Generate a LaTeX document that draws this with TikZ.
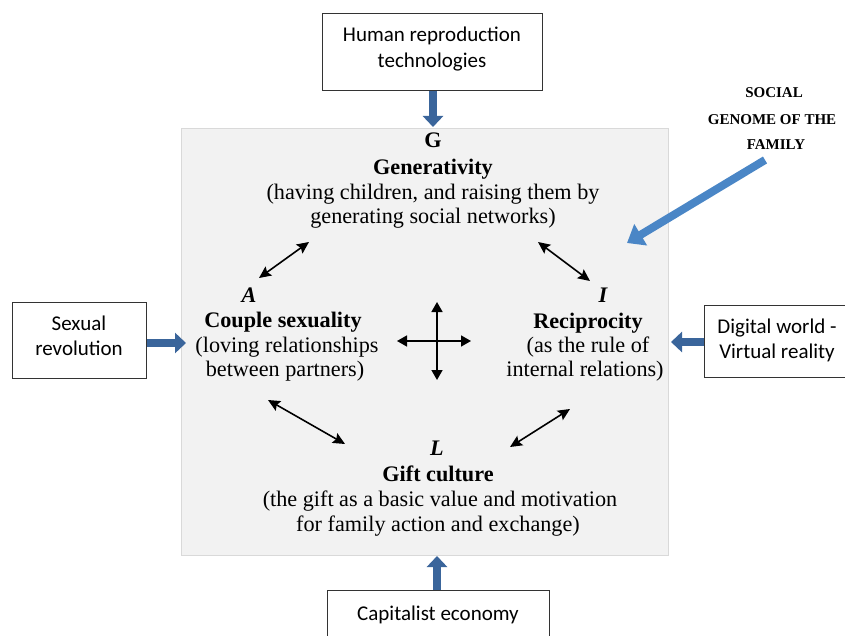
\documentclass[tikz,border=0pt]{standalone}
\usepackage{fontspec}
\setmainfont{Liberation Serif}
\newfontfamily\carlitofont{Carlito}
\usetikzlibrary{arrows.meta}
\definecolor{bluearr}{HTML}{3A659B}
\definecolor{lightblue}{HTML}{4A86C6}
\definecolor{panel}{HTML}{F2F2F2}
\begin{document}
\begin{tikzpicture}[x=1pt,y=-1pt,
  outbox/.style={draw=black!80,line width=0.8pt,fill=white,inner sep=0pt,anchor=north west},
  sans/.style={font=\carlitofont\fontsize{21}{26}\selectfont,inner sep=0pt,anchor=base},
  inflow/.style={draw=bluearr,line width=8pt,-{Triangle[width=20pt,length=11pt]}},
  dbl/.style={line width=1.6pt,{Stealth[length=12pt,width=11pt,inset=2pt]}-{Stealth[length=12pt,width=11pt,inset=2pt]}},
  crossarr/.style={line width=1.6pt,{Triangle[length=10pt,width=11pt]}-{Triangle[length=10pt,width=11pt]}},
  ln/.style={font=\fontsize{22.2}{25}\selectfont,inner sep=0pt,anchor=base},
  bln/.style={ln,font=\bfseries\fontsize{22.2}{25}\selectfont},
  iln/.style={ln,font=\bfseries\itshape\fontsize{22.2}{25}\selectfont},
  sgln/.style={font=\bfseries\fontsize{15}{18}\selectfont,inner sep=0pt,anchor=base}]
\useasboundingbox (0,0) rectangle (845,636);
\node[draw=black!15,fill=panel,minimum width=487pt,minimum height=427pt,inner sep=0pt,anchor=north west] (panel) at (181,128) {};
% outer boxes
\node[outbox,minimum width=220pt,minimum height=77pt] (hrt) at (322,13) {};
\node[sans] (hrt1) at (432,42) {Human reproduction};
\node[sans] (hrt2) at (432,68) {technologies};
\node[outbox,minimum width=134pt,minimum height=76pt] (sex) at (12,302) {};
\node[sans] (sex1) at (79,330) {Sexual};
\node[sans] (sex2) at (79,355) {revolution};
\node[outbox,minimum width=145pt,minimum height=72pt] (dig) at (704,305) {};
\node[sans] (dig1) at (777,333) {Digital world -};
\node[sans] (dig2) at (777,358) {Virtual reality};
\node[outbox,minimum width=222pt,minimum height=60pt] (cap) at (327,590) {};
\node[sans] (cap1) at (438,620) {Capitalist economy};
% coordinates for arrow ends
\coordinate (gtop) at (433,127);
\coordinate (aleft) at (186,343);
\coordinate (iright) at (671,342);
\coordinate (lbot) at (437,556);
\draw[inflow] (hrt.south -| gtop) -- (gtop);
\draw[inflow] (sex.east |- aleft) -- (aleft);
\draw[inflow] (dig.west |- iright) -- (iright);
\draw[inflow] (cap.north -| lbot) -- (lbot);
% social genome
\node[sgln] (sg1) at (774,98) {SOCIAL};
\node[sgln] (sg2) at (772,125) {GENOME OF THE};
\node[sgln] (sg3) at (776,150) {FAMILY};
\coordinate (sgtail) at (765,160);
\coordinate (sghead) at (627,243);
\draw[draw=lightblue,line width=8pt,-{Triangle[width=24pt,length=16pt]}] (sgtail) -- (sghead);
% G block
\node[bln] (G) at (433,148) {G};
\node[bln] (G1) at (433,175) {Generativity};
\node[ln] (G2) at (433,200) {(having children, and raising them by};
\node[ln] (G3) at (433,224) {generating social networks)};
% A block
\node[iln] (A) at (249,302) {A};
\node[bln] (A1) at (283,327) {Couple sexuality};
\node[ln] (A2) at (287,352) {(loving relationships};
\node[ln] (A3) at (285,376) {between partners)};
% I block
\node[iln] (I) at (603,302) {I};
\node[bln] (I1) at (588,328) {Reciprocity};
\node[ln] (I2) at (588,352) {(as the rule of};
\node[ln] (I3) at (585,376) {internal relations)};
% L block
\node[iln] (L) at (437,455) {L};
\node[bln] (L1) at (438,481) {Gift culture};
\node[ln] (L2) at (440,506) {(the gift as a basic value and motivation};
\node[ln] (L3) at (438,531) {for family action and exchange)};
% double arrows
\coordinate (ga1) at (259,278); \coordinate (ga2) at (309,242);
\coordinate (gi1) at (538,242); \coordinate (gi2) at (590,281);
\coordinate (al1) at (268,400); \coordinate (al2) at (345,444);
\coordinate (il1) at (510,447); \coordinate (il2) at (570,409);
\draw[dbl] (ga1) -- (ga2);
\draw[dbl] (gi1) -- (gi2);
\draw[dbl] (al1) -- (al2);
\draw[dbl] (il1) -- (il2);
\coordinate (cl) at (397,341); \coordinate (cr) at (471,341);
\coordinate (ct) at (437,302); \coordinate (cb) at (437,380);
\draw[crossarr] (cl) -- (cr);
\draw[crossarr] (ct) -- (cb);
\end{tikzpicture}
\end{document}
